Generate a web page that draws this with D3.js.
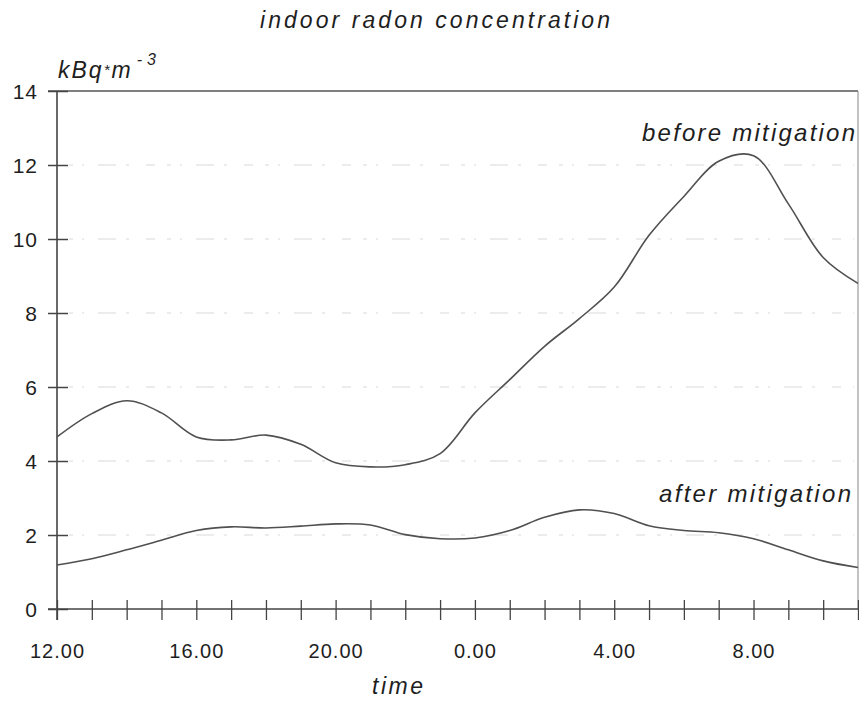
<!DOCTYPE html>
<html>
<head>
<meta charset="utf-8">
<script src="https://cdn.jsdelivr.net/npm/d3@7"></script>
<style>
  body { margin: 0; background: #fff; }
  svg { display: block; }
  text { font-family: 'Liberation Sans', Arial, sans-serif; fill: #1e1e1e; }
  .italic { font-style: italic; }
</style>
</head>
<body>
<svg id="chart" width="859" height="701"></svg>
<script>
// hours after 12.00
const hours = d3.range(0, 24)
const beforeMitigation = [4.65, 5.28, 5.63, 5.3, 4.65, 4.57, 4.7, 4.45, 3.95, 3.84, 3.9, 4.2,
  5.3, 6.2, 7.1, 7.85, 8.7, 10.1, 11.15, 12.1, 12.25, 10.95, 9.5, 8.8]
const afterMitigation = [1.19, 1.36, 1.6, 1.86, 2.12, 2.22, 2.19, 2.24, 2.3, 2.27, 2.01, 1.9,
  1.92, 2.12, 2.48, 2.68, 2.58, 2.25, 2.12, 2.06, 1.9, 1.6, 1.3, 1.12]
const yTicks = [0, 2, 4, 6, 8, 10, 12, 14]
const xLabelHours = [0, 4, 8, 12, 16, 20]
const gridValues = [2, 4, 6, 8, 10, 12]

const svg = d3.select('#chart')
const x = d3.scaleLinear().domain([0, 23]).range([57, 858])
const y = d3.scaleLinear().domain([0, 14]).range([609, 91])

const clockLabel = h => `${(12 + h) % 24}.00`

// faint grid
svg.append('g')
  .selectAll('line')
  .data(gridValues)
  .join('line')
  .attr('x1', x(0) + 12)
  .attr('x2', x(23) - 4)
  .attr('y1', d => y(d))
  .attr('y2', d => y(d))
  .attr('stroke', '#dadada')
  .attr('stroke-width', 1.2)
  .attr('stroke-dasharray', '4,9,2,14,18,10,3,17,9,12')

// frame: top line and right edge
svg.append('line')
  .attr('x1', 48).attr('x2', x(23))
  .attr('y1', y(14)).attr('y2', y(14))
  .attr('stroke', '#555').attr('stroke-width', 1.6)
svg.append('line')
  .attr('x1', x(23)).attr('x2', x(23))
  .attr('y1', y(14)).attr('y2', y(0))
  .attr('stroke', '#999').attr('stroke-width', 1.2)

// x axis
const xAxis = svg.append('g')
  .attr('transform', `translate(0,${y(0)})`)
  .call(d3.axisBottom(x)
    .tickValues(hours)
    .tickSizeOuter(0)
    .tickFormat(h => xLabelHours.includes(h) ? clockLabel(h) : ''))
xAxis.select('.domain')
  .attr('d', `M48,0H${x(23)}`)
  .attr('stroke', '#444').attr('stroke-width', 1.6)
xAxis.selectAll('.tick line')
  .attr('y1', -9).attr('y2', 11)
  .attr('stroke', '#444').attr('stroke-width', 1.3)
xAxis.selectAll('.tick text')
  .attr('y', 49).attr('dy', 0)
  .attr('font-size', 20)
  .attr('letter-spacing', 1)
  .style('font-family', "'Liberation Sans', Arial, sans-serif")
  .attr('fill', '#1e1e1e')

// y axis
const yAxis = svg.append('g')
  .attr('transform', `translate(${x(0)},0)`)
  .call(d3.axisLeft(y).tickValues(yTicks).tickSizeOuter(0))
yAxis.select('.domain')
  .attr('d', `M0,${y(14)}V${y(0) + 11}`)
  .attr('stroke', '#444').attr('stroke-width', 1.6)
yAxis.selectAll('.tick line')
  .attr('x1', -9).attr('x2', 11)
  .attr('stroke', '#444').attr('stroke-width', 1.5)
yAxis.selectAll('.tick text')
  .attr('x', -19).attr('dy', '0.36em')
  .attr('font-size', 21)
  .attr('letter-spacing', 1)
  .style('font-family', "'Liberation Sans', Arial, sans-serif")
  .attr('fill', '#1e1e1e')

// curves
const line = d3.line()
  .x((d, i) => x(hours[i]))
  .y(d => y(d))
  .curve(d3.curveCatmullRom.alpha(0.5))

svg.selectAll('path.series')
  .data([beforeMitigation, afterMitigation])
  .join('path')
  .attr('class', 'series')
  .attr('d', line)
  .attr('fill', 'none')
  .attr('stroke', '#505050')
  .attr('stroke-width', 1.6)

// texts
svg.append('text')
  .attr('class', 'italic')
  .attr('x', 260).attr('y', 28)
  .attr('font-size', 23)
  .attr('textLength', 350).attr('lengthAdjust', 'spacing')
  .text('indoor radon concentration')

const unit = svg.append('text')
  .attr('class', 'italic')
  .attr('x', 58).attr('y', 78)
  .attr('font-size', 23)
  .attr('letter-spacing', 2)
unit.append('tspan').text('kBq')
unit.append('tspan').attr('font-size', 15).attr('dy', -3).text('*')
unit.append('tspan').attr('dy', 3).text('m')
unit.append('tspan').attr('font-size', 16).attr('dy', -13).attr('dx', 4).attr('letter-spacing', 5).text('-3')

svg.append('text')
  .attr('class', 'italic')
  .attr('x', 642).attr('y', 141)
  .attr('font-size', 24)
  .attr('textLength', 213).attr('lengthAdjust', 'spacing')
  .text('before mitigation')

svg.append('text')
  .attr('class', 'italic')
  .attr('x', 659).attr('y', 502)
  .attr('font-size', 24)
  .attr('textLength', 192).attr('lengthAdjust', 'spacing')
  .text('after mitigation')

svg.append('text')
  .attr('class', 'italic')
  .attr('x', 372).attr('y', 694)
  .attr('font-size', 23)
  .attr('textLength', 51).attr('lengthAdjust', 'spacing')
  .text('time')
</script>
</body>
</html>
